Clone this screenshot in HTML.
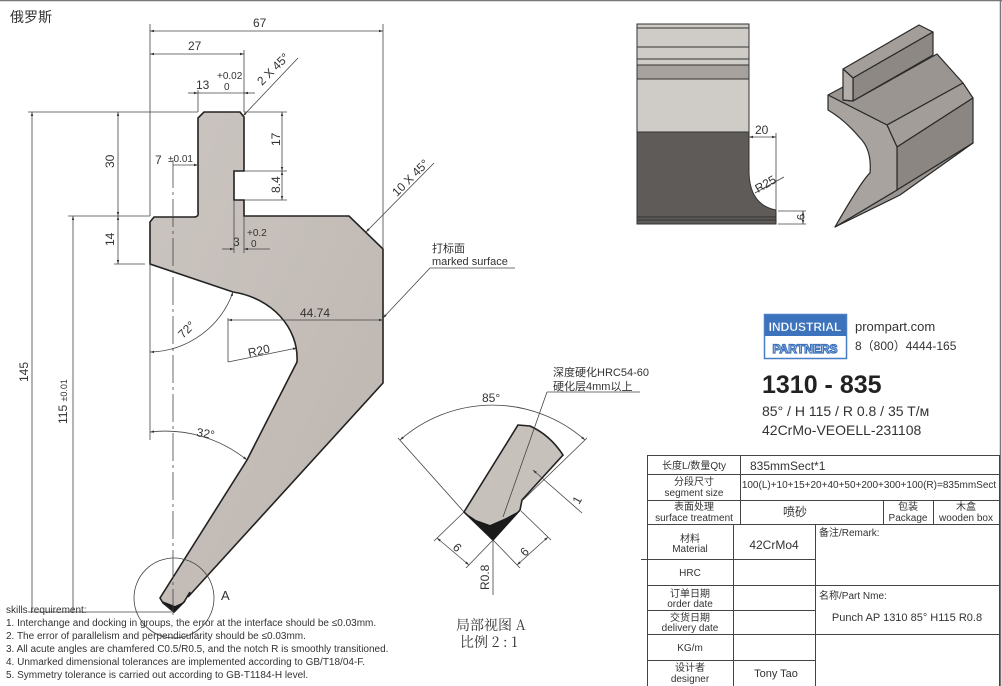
<!DOCTYPE html>
<html><head><meta charset="utf-8"><style>
html,body{margin:0;padding:0;background:#fff;}
svg{display:block;}
text{font-family:"Liberation Sans","Noto Sans CJK SC",sans-serif;fill:#333;}
.d{stroke:#444;stroke-width:0.8;fill:none;}
.o{stroke:#222;stroke-width:1.6;}
.t{stroke:#555;stroke-width:1;fill:none;}
</style></head><body>
<svg width="1002" height="686" viewBox="0 0 1002 686" xmlns="http://www.w3.org/2000/svg">
<defs>
<marker id="a" viewBox="0 0 10 10" refX="10" refY="5" markerWidth="7" markerHeight="5" orient="auto-start-reverse"><path d="M0,2 L10,5 L0,8 z" fill="#333"/></marker>
<linearGradient id="g" x1="0" y1="0" x2="1" y2="1"><stop offset="0" stop-color="#cbc5c1"/><stop offset="1" stop-color="#bdb5af"/></linearGradient>
</defs>
<line x1="0" y1="0.5" x2="1002" y2="0.5" stroke="#777" stroke-width="1.5"/>
<line x1="1000.5" y1="0" x2="1000.5" y2="686" stroke="#777" stroke-width="1.5"/>
<text x="10" y="22" font-size="14">俄罗斯</text>

<!-- main profile -->
<path class="o" fill="url(#g)" d="M204,112 L240,112 L244,117 L244,171 L234,171 L234,200 L244,200 L244,216 L349,216 L383,249 L383,383 L188,597 L190,592 L184,602 L174,612 L163,603 L160,598 L247,460 L297,362 C299,328 272,298 233,292 L150,264 L150,222 L154,217 L194,217 Q199,217 198,212 L198,118 Z"/>
<path d="M162,601 L174,612 L186,601 L175,606 Z" fill="#1a1a1a"/>

<!-- dimensions -->
<g class="d">
<line x1="150" y1="24" x2="150" y2="216"/><line x1="383" y1="24" x2="383" y2="249"/>
<line x1="150" y1="31" x2="383" y2="31" marker-start="url(#a)" marker-end="url(#a)"/>
<line x1="244" y1="50" x2="244" y2="112"/>
<line x1="150" y1="54" x2="244" y2="54" marker-start="url(#a)" marker-end="url(#a)"/>
<line x1="198" y1="90" x2="198" y2="112"/>
<line x1="188" y1="93" x2="198" y2="93" marker-end="url(#a)"/><line x1="255" y1="93" x2="244" y2="93" marker-end="url(#a)"/><line x1="198" y1="93" x2="244" y2="93"/>
<line x1="298" y1="58" x2="243" y2="116" marker-end="url(#a)"/>
<line x1="244" y1="112" x2="287" y2="112"/><line x1="244" y1="171" x2="287" y2="171"/><line x1="244" y1="200" x2="287" y2="200"/>
<line x1="282" y1="112" x2="282" y2="171" marker-start="url(#a)" marker-end="url(#a)"/>
<line x1="282" y1="171" x2="282" y2="200" marker-start="url(#a)" marker-end="url(#a)"/>
<line x1="173" y1="165" x2="198" y2="165" marker-end="url(#a)"/>
<line x1="173" y1="160" x2="173" y2="615" stroke-dasharray="28,4,3,4"/>
<line x1="234" y1="200" x2="234" y2="253"/><line x1="244" y1="216" x2="244" y2="253"/>
<line x1="222" y1="249" x2="234" y2="249" marker-end="url(#a)"/><line x1="270" y1="249" x2="244" y2="249" marker-end="url(#a)"/>
<line x1="434" y1="163" x2="366" y2="232" marker-end="url(#a)"/>
<line x1="430" y1="268" x2="515" y2="268"/><line x1="430" y1="268" x2="383" y2="318" marker-end="url(#a)"/>
<line x1="228" y1="318" x2="228" y2="362"/>
<line x1="228" y1="320" x2="383" y2="320" marker-start="url(#a)" marker-end="url(#a)"/>
<line x1="228" y1="362" x2="297" y2="348" marker-end="url(#a)"/>
<line x1="150" y1="264" x2="150" y2="440"/>
<path d="M233,292 A90,90 0 0 1 150,352" marker-start="url(#a)" marker-end="url(#a)"/>
<path d="M150,432 A130,130 0 0 1 247,460" marker-start="url(#a)" marker-end="url(#a)"/>
<line x1="28" y1="112" x2="198" y2="112"/>
<line x1="68" y1="216" x2="150" y2="216"/>
<line x1="114" y1="264" x2="145" y2="264"/>
<line x1="28" y1="612" x2="172" y2="612"/>
<line x1="32" y1="112" x2="32" y2="612" marker-start="url(#a)"/>
<line x1="73" y1="216" x2="73" y2="612" marker-start="url(#a)"/>
<line x1="118" y1="112" x2="118" y2="216" marker-start="url(#a)" marker-end="url(#a)"/>
<line x1="118" y1="216" x2="118" y2="264" marker-start="url(#a)" marker-end="url(#a)"/>
<circle cx="174" cy="598" r="40"/>
</g>
<g font-size="12">
<text x="253" y="27">67</text>
<text x="188" y="50">27</text>
<text x="196" y="89">13</text>
<text x="217" y="79" font-size="10">+0.02</text>
<text x="224" y="90" font-size="10">0</text>
<text x="262" y="86" transform="rotate(-45 262 86)">2 X 45°</text>
<text x="280" y="146" transform="rotate(-90 280 146)">17</text>
<text x="280" y="193" transform="rotate(-90 280 193)">8.4</text>
<text x="155" y="164">7</text><text x="168" y="162" font-size="10">±0.01</text>
<text x="233" y="246">3</text>
<text x="247" y="236" font-size="10">+0.2</text><text x="251" y="247" font-size="10">0</text>
<text x="397" y="197" transform="rotate(-45 397 197)">10 X 45°</text>
<text x="432" y="252" font-size="11">打标面</text>
<text x="432" y="265" font-size="11">marked surface</text>
<text x="300" y="317">44.74</text>
<text x="249" y="357" transform="rotate(-12 249 357)">R20</text>
<text x="183" y="339" transform="rotate(-45 183 339)">72°</text>
<text x="196" y="436" transform="rotate(10 196 436)">32°</text>
<text x="28" y="382" transform="rotate(-90 28 382)">145</text>
<text x="67" y="424" transform="rotate(-90 67 424)">115 <tspan font-size="9">±0.01</tspan></text>
<text x="114" y="168" transform="rotate(-90 114 168)">30</text>
<text x="114" y="246" transform="rotate(-90 114 246)">14</text>
<text x="221" y="600" font-size="13">A</text>
</g>
<g font-size="10">
<text x="6" y="613">skills requirement:</text>
<text x="6" y="626">1. Interchange and docking in groups, the error at the interface should be ≤0.03mm.</text>
<text x="6" y="639">2. The error of parallelism and perpendicularity should be ≤0.03mm.</text>
<text x="6" y="652">3. All acute angles are chamfered C0.5/R0.5, and the notch R is smoothly transitioned.</text>
<text x="6" y="665">4. Unmarked dimensional tolerances are implemented according to GB/T18/04-F.</text>
<text x="6" y="678">5. Symmetry tolerance is carried out according to GB-T1184-H level.</text>
</g>

<!-- detail A -->
<path class="o" fill="#c7c1bc" d="M518,425 L530,426 Q550,435 563,455 L522,500 L520,510 L493,540 L464,512 Z"/>
<path d="M464,512 L493,540 L521,510 L506,518 L490,525 L476,520 Z" fill="#1a1a1a"/>
<g class="d">
<path d="M400,440 A140,140 0 0 1 585,440" marker-start="url(#a)" marker-end="url(#a)"/>
<line x1="464" y1="512" x2="398" y2="438"/><line x1="523" y1="500" x2="587" y2="438"/>
<line x1="464" y1="512" x2="434" y2="541"/><line x1="493" y1="540" x2="466" y2="568"/>
<line x1="437" y1="538" x2="469" y2="565" marker-start="url(#a)" marker-end="url(#a)"/>
<line x1="521" y1="511" x2="551" y2="540"/><line x1="493" y1="540" x2="520" y2="568"/>
<line x1="548" y1="537" x2="517" y2="565" marker-start="url(#a)" marker-end="url(#a)"/>
<line x1="493" y1="540" x2="493" y2="595"/>
<line x1="582" y1="513" x2="533" y2="470" marker-end="url(#a)"/>
<line x1="503" y1="517" x2="547" y2="392"/><line x1="547" y1="392" x2="640" y2="392"/>
</g>
<g font-size="12">
<text x="482" y="402">85°</text>
<text x="553" y="376" font-size="11">深度硬化HRC54-60</text>
<text x="553" y="390" font-size="11">硬化层4mm以上</text>
<text x="452" y="548" transform="rotate(45 452 548)">6</text>
<text x="525" y="557" transform="rotate(-45 525 557)">6</text>
<text x="489" y="590" transform="rotate(-90 489 590)">R0.8</text>
<text x="579" y="505" transform="rotate(-60 579 505)">1</text>
<text x="456" y="630" font-size="14" style="font-family:'Noto Serif CJK SC','Liberation Serif',serif">局部视图 A</text>
<text x="460" y="647" font-size="14" style="font-family:'Noto Serif CJK SC','Liberation Serif',serif">比例 2 : 1</text>
</g>

<!-- front view top right -->
<rect x="637" y="24" width="112" height="108" fill="#cfcbc6"/>
<rect x="637" y="65" width="112" height="14" fill="#a7a29d"/>
<path d="M637,132 L749,132 L749,173 Q750,205 776,210 L776,224 L637,224 Z" fill="#5e5b59"/>
<g stroke="#333" stroke-width="1" fill="none">
<rect x="637" y="24" width="112" height="108"/>
<line x1="637" y1="28" x2="749" y2="28"/><line x1="637" y1="47" x2="749" y2="47"/><line x1="637" y1="59" x2="749" y2="59"/><line x1="637" y1="65" x2="749" y2="65"/><line x1="637" y1="79" x2="749" y2="79"/>
<path d="M637,132 L749,132 L749,173 Q750,205 776,210 L776,224 L637,224 Z"/>
<line x1="637" y1="217" x2="776" y2="217"/><line x1="637" y1="220" x2="776" y2="220"/>
</g>
<g class="d">
<line x1="776" y1="133" x2="776" y2="210"/>
<line x1="749" y1="137" x2="776" y2="137" marker-start="url(#a)" marker-end="url(#a)"/>
<line x1="755" y1="193" x2="784" y2="177"/>
<line x1="778" y1="211" x2="806" y2="211"/><line x1="778" y1="224" x2="806" y2="224"/>
<line x1="803" y1="211" x2="803" y2="224" marker-start="url(#a)" marker-end="url(#a)"/>
</g>
<text x="755" y="134" font-size="12">20</text>
<text x="758" y="193" font-size="12" transform="rotate(-30 758 193)">R25</text>
<text x="797" y="214" font-size="11" transform="rotate(90 797 214)">9</text>

<!-- 3D view -->
<g stroke="#2a2a2a" stroke-width="1.2" stroke-linejoin="round">
<path d="M843,69 L919,25 L933,32 L853,78 Z" fill="#a39e99"/>
<path d="M933,32 L933,55 L853,101 L853,78 Z" fill="#8d8884"/>
<path d="M828,95 L843,87 L843,100 L853,101 L937,54 L963,83 L887,125 Z" fill="#9a9590"/>
<path d="M887,125 L963,83 L973,98 L897,147 Z" fill="#a29d98"/>
<path d="M897,147 L973,98 L973,143 L897,190 Z" fill="#8b8682"/>
<path d="M897,190 L973,143 L900,195 L835,227 Z" fill="#9a9590"/>
<path d="M828,95 L887,125 L897,147 L897,190 L835,227 Q862,180 870,173 Q872,150 860,138 Q845,120 828,110 Z" fill="#a8a39e"/>
<path d="M843,69 L853,78 L853,101 L843,100 Z" fill="#b3aea9"/>
</g>

<!-- logo & info -->
<rect x="764.5" y="314.5" width="82" height="44" fill="#fff" stroke="#4a7fc4" stroke-width="1.5"/>
<rect x="765" y="315" width="81" height="21" fill="#3d72bd"/>
<text x="805" y="331" font-size="12" font-weight="bold" text-anchor="middle" style="fill:#fff;stroke:#3d72bd;stroke-width:0.3">INDUSTRIAL</text>
<text x="805" y="353" font-size="12" font-weight="bold" text-anchor="middle" style="fill:#fff;stroke:#3d72bd;stroke-width:1.2;paint-order:normal">PARTNERS</text>
<text x="855" y="331" font-size="13">prompart.com</text>
<text x="855" y="350" font-size="12">8（800）4444-165</text>
<text x="762" y="393" font-size="25" font-weight="bold" style="fill:#222">1310 - 835</text>
<text x="762" y="416" font-size="14">85° / H 115 / R 0.8 / 35 T/м</text>
<text x="762" y="435" font-size="14">42CrMo-VEOELL-231108</text>

<!-- table -->
<g stroke="#444" stroke-width="1" fill="none">
<rect x="647.5" y="455.5" width="352" height="231"/>
<line x1="647" y1="474.5" x2="1000" y2="474.5"/>
<line x1="647" y1="500.5" x2="1000" y2="500.5"/>
<line x1="647" y1="524.5" x2="1000" y2="524.5"/>
<line x1="740.5" y1="455" x2="740.5" y2="524"/>
<line x1="883.5" y1="500" x2="883.5" y2="524"/>
<line x1="933.5" y1="500" x2="933.5" y2="524"/>
<line x1="733.5" y1="524" x2="733.5" y2="686"/>
<line x1="815.5" y1="524" x2="815.5" y2="686"/>
<line x1="647" y1="559.5" x2="815" y2="559.5"/>
<line x1="647" y1="585.5" x2="1000" y2="585.5"/>
<line x1="647" y1="610.5" x2="815" y2="610.5"/>
<line x1="647" y1="634.5" x2="1000" y2="634.5"/>
<line x1="647" y1="660.5" x2="815" y2="660.5"/>
<line x1="641" y1="559.5" x2="647" y2="559.5"/>
</g>
<g font-size="10" text-anchor="middle">
<text x="694" y="469">长度L/数量Qty</text>
<text x="694" y="485">分段尺寸</text><text x="694" y="496">segment size</text>
<text x="694" y="510">表面处理</text><text x="694" y="521">surface treatment</text>
<text x="690" y="542">材料</text><text x="690" y="552">Material</text>
<text x="690" y="576">HRC</text>
<text x="690" y="597">订单日期</text><text x="690" y="607">order date</text>
<text x="690" y="621">交货日期</text><text x="690" y="631">delivery date</text>
<text x="690" y="651">KG/m</text>
<text x="690" y="671">设计者</text><text x="690" y="682">designer</text>
<text x="908" y="510">包装</text><text x="908" y="521">Package</text>
<text x="966" y="510">木盒</text><text x="966" y="521">wooden box</text>
<text x="869" y="488" font-size="10">100(L)+10+15+20+40+50+200+300+100(R)=835mmSect</text>
<text x="795" y="516" font-size="12">喷砂</text>
<text x="774" y="549" font-size="12">42CrMo4</text>
<text x="776" y="677" font-size="11">Tony  Tao</text>
<text x="907" y="621" font-size="11">Punch AP 1310 85° H115 R0.8</text>
</g>
<text x="750" y="470" font-size="12">835mmSect*1</text>
<text x="819" y="536" font-size="10">备注/Remark:</text>
<text x="819" y="599" font-size="10">名称/Part Nme:</text>
</svg>
</body></html>
